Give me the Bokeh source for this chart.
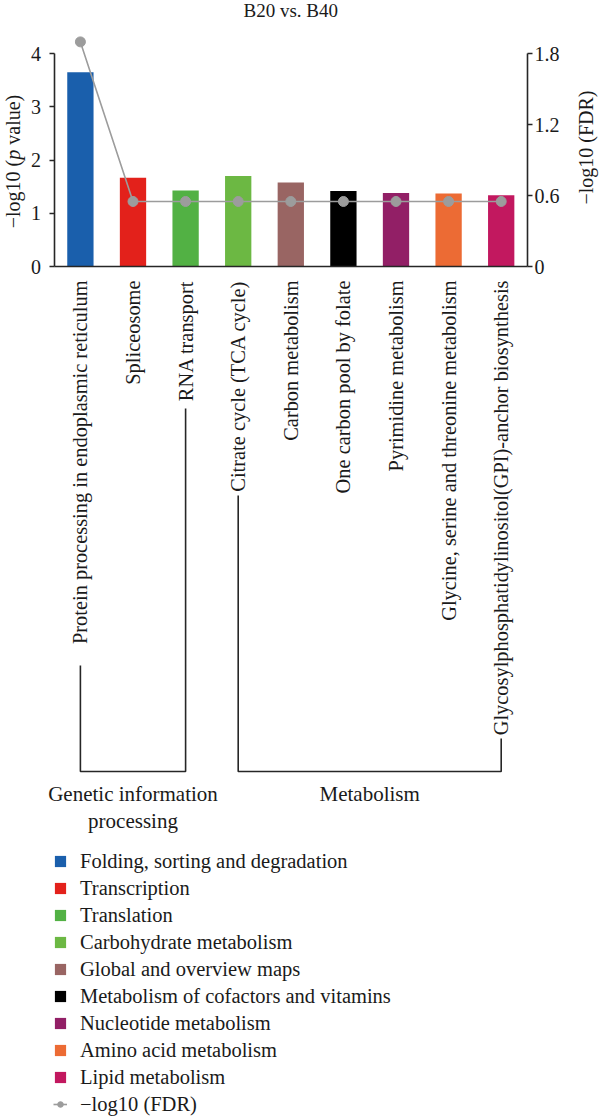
import math
from bokeh.plotting import figure
from bokeh.models import (Range1d, LinearAxis, FixedTicker, Label, Legend, LegendItem,
                          CustomJSTickFormatter)
from bokeh.core.properties import value
from bokeh.embed import file_html
from bokeh.resources import INLINE

# ---------------- data ----------------
pathways = [
    "Protein processing in endoplasmic reticulum",
    "Spliceosome",
    "RNA transport",
    "Citrate cycle (TCA cycle)",
    "Carbon metabolism",
    "One carbon pool by folate",
    "Pyrimidine metabolism",
    "Glycine, serine and threonine metabolism",
    "Glycosylphosphatidylinositol(GPI)-anchor biosynthesis",
]
p_values = [3.65, 1.67, 1.43, 1.70, 1.58, 1.42, 1.38, 1.37, 1.34]
fdr_values = [1.90, 0.55, 0.55, 0.55, 0.55, 0.55, 0.55, 0.55, 0.55]
classes = [
    "Folding, sorting and degradation",
    "Transcription",
    "Translation",
    "Carbohydrate metabolism",
    "Global and overview maps",
    "Metabolism of cofactors and vitamins",
    "Nucleotide metabolism",
    "Amino acid metabolism",
    "Lipid metabolism",
]
colors = ["#1a5fac", "#e3211b", "#52b144", "#6cb843", "#996563",
          "#000000", "#921f66", "#ec6b34", "#c2185f"]
left_ticks = [0, 1, 2, 3, 4]
right_ticks = [0, 0.6, 1.2, 1.8]
groups = ["Genetic information\nprocessing", "Metabolism"]
group_first = [0, 3]
group_last = [2, 8]
title_text = "B20 vs. B40"
left_label_parts = ["\u2212log10 (", "p", "value)"]
right_label = "\u2212log10 (FDR)"
fdr_label = "\u2212log10 (FDR)"

# ---------------- layout constants (pixels) ----------------
W, H = 600, 1118
FONT = "Liberation Serif"
Y_PX = 53.2            # px per left-axis unit
ZERO_Y = 266           # px from top where y = 0
X_PX = 52.6            # px per category
LEFT_PX = 53.6         # px from left where the first category starts
Y_END = ZERO_Y / Y_PX
Y_START = Y_END - H / Y_PX
X_START = -LEFT_PX / X_PX
X_END = X_START + W / X_PX
FDR_SCALE = right_ticks[-1] / left_ticks[-1]
N = len(pathways)

def y_at(py):
    return Y_END - py / Y_PX

def x_at(px):
    return X_START + px / X_PX

AXIS_COLOR = "#262626"
TEXT_COLOR = "#1a1a1a"
GREY = "#9c9c9c"

p = figure(
    x_range=Range1d(X_START, X_END),
    y_range=Range1d(Y_START, Y_END),
    width=W, height=H,
    min_border_left=0, min_border_right=0, min_border_top=0, min_border_bottom=0,
    output_backend="svg", toolbar_location=None, outline_line_color=None,
)
p.extra_y_ranges = {"fdr": Range1d(Y_START * FDR_SCALE, Y_END * FDR_SCALE)}
p.grid.visible = False

xpos = [i + 0.5 for i in range(N)]

# bars
bars = p.vbar(x=xpos, top=p_values, width=0.5, fill_color=colors, line_color=None)

# FDR line with markers
fdr_line = p.line(x=xpos, y=fdr_values, line_color=GREY, line_width=1.6,
                  y_range_name="fdr")
fdr_pts = p.scatter(x=xpos, y=fdr_values, size=10, fill_color=GREY,
                    line_color=GREY, y_range_name="fdr")

# x axis (category labels)
xa = p.xaxis[0]
xa.fixed_location = 0
xa.bounds = (0, N)
xa.ticker = FixedTicker(ticks=xpos)
xa.formatter = CustomJSTickFormatter(args=dict(names=pathways),
                                     code="return names[Math.round(tick - 0.5)];")
xa.major_tick_line_color = None
xa.minor_tick_line_color = None
xa.axis_line_color = AXIS_COLOR
xa.axis_line_width = 1.6
xa.major_label_orientation = math.pi / 2
xa.major_label_standoff = 8
xa.major_label_text_font = FONT
xa.major_label_text_font_size = "20.4px"
xa.major_label_text_color = TEXT_COLOR

# left y axis
ya = p.yaxis[0]
ya.fixed_location = 0
ya.bounds = (0, left_ticks[-1])
ya.ticker = FixedTicker(ticks=left_ticks)
ya.major_label_standoff = 8

# right y axis
ra = LinearAxis(y_range_name="fdr", bounds=(0, right_ticks[-1]),
                ticker=FixedTicker(ticks=right_ticks),
                formatter=CustomJSTickFormatter(code="return tick.toString();"))
ra.fixed_location = N
ra.major_label_standoff = 2
p.add_layout(ra, "right")

for ax in (ya, ra):
    ax.axis_line_color = AXIS_COLOR
    ax.axis_line_width = 1.6
    ax.major_tick_line_color = AXIS_COLOR
    ax.major_tick_line_width = 1.6
    ax.major_tick_in = 0
    ax.major_tick_out = 5
    ax.minor_tick_line_color = None
    ax.major_label_text_font = FONT
    ax.major_label_text_font_size = "20px"
    ax.major_label_text_color = TEXT_COLOR

# left axis title (italic p), reading upwards; advances include following spaces
part_px = [68.5, 15.0, 50.0]
y_cursor = 161 + sum(part_px) / 2
for part, w in zip(left_label_parts, part_px):
    p.add_layout(Label(x=x_at(12.5), y=y_at(y_cursor), text=part, angle=math.pi / 2,
                       text_align="left", text_baseline="middle",
                       text_font=FONT, text_font_size="20px", text_color=TEXT_COLOR,
                       text_font_style="italic" if part == "p" else "normal"))
    y_cursor -= w

# right axis title
p.add_layout(Label(x=x_at(585), y=y_at(147), text=right_label, angle=math.pi / 2,
                   text_align="center", text_baseline="middle",
                   text_font=FONT, text_font_size="20px", text_color=TEXT_COLOR))

# chart title
p.add_layout(Label(x=N / 2, y=y_at(10), text=title_text,
                   text_align="center", text_baseline="middle",
                   text_font=FONT, text_font_size="19px", text_color=TEXT_COLOR))

# group brackets
bracket_top_first = [y_at(665), y_at(495)]
bracket_top_last = [y_at(408), y_at(738)]
bracket_bottom = y_at(771)
xs, ys = [], []
for i in range(len(groups)):
    a = group_first[i] + 0.5
    b = group_last[i] + 0.5
    xs.append([a, a, b, b])
    ys.append([bracket_top_first[i], bracket_bottom, bracket_bottom, bracket_top_last[i]])
p.multi_line(xs=xs, ys=ys, line_color=AXIS_COLOR, line_width=1.6)

gx, gy, gt = [], [], []
for i, g in enumerate(groups):
    for k, line in enumerate(g.split("\n")):
        gx.append((group_first[i] + group_last[i] + 1) / 2)
        gy.append(y_at(793 + 27 * k))
        gt.append(line)
p.text(x=gx, y=gy, text=gt, text_align="center", text_baseline="middle",
       text_font=value(FONT), text_font_size="21px", text_color=TEXT_COLOR)

# legend
items = [LegendItem(label=classes[i], renderers=[bars], index=i) for i in range(len(classes))]
items.append(LegendItem(label=fdr_label, renderers=[fdr_line, fdr_pts]))
legend = Legend(items=items, location=(53, 2), orientation="vertical",
                glyph_width=14, glyph_height=14, label_standoff=13,
                spacing=3, padding=0, margin=0, label_height=24,
                border_line_color=None, background_fill_alpha=0,
                label_text_font=FONT, label_text_font_size="20.5px",
                label_text_color=TEXT_COLOR)
p.add_layout(legend)

open("out.html", "w").write(file_html(p, INLINE))
